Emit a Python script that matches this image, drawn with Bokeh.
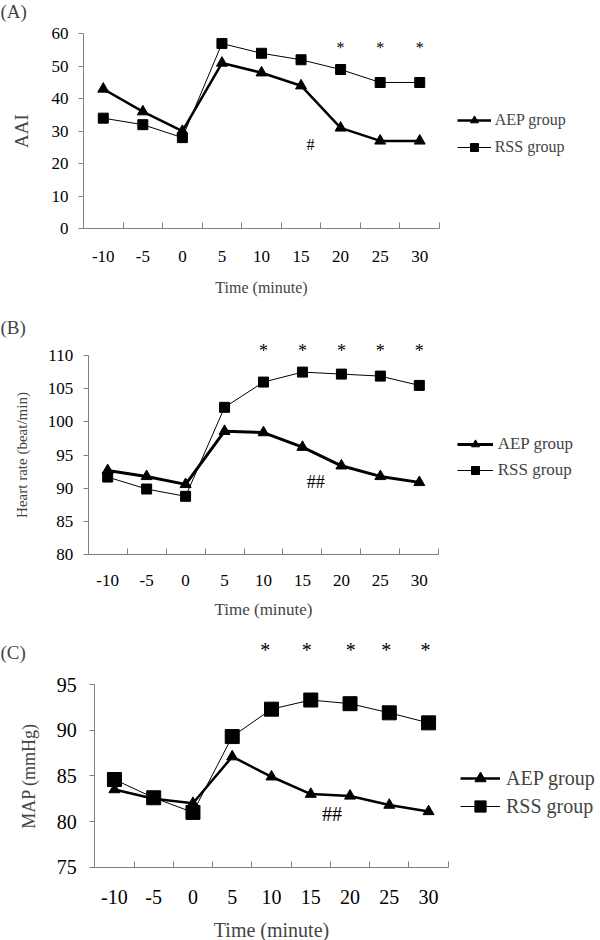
from bokeh.plotting import figure
from bokeh.layouts import column
from bokeh.models import Range1d, FixedTicker, Legend, LegendItem, Label, LabelSet, ColumnDataSource
from bokeh.embed import file_html
from bokeh.resources import INLINE

FONT = "Liberation Serif"
GRAY = "#808080"
W = 600

# ---- data ----
minutes = [-10, -5, 0, 5, 10, 15, 20, 25, 30]
x_tick_labels = ["-10", "-5", "0", "5", "10", "15", "20", "25", "30"]
x_bounds = [-12.5, -7.5, -2.5, 2.5, 7.5, 12.5, 17.5, 22.5, 27.5, 32.5]

aai_aep = [43, 36, 30, 51, 48, 44, 31, 27, 27]
aai_rss = [34, 32, 28, 57, 54, 52, 49, 45, 45]
aai_ticks = [0, 10, 20, 30, 40, 50, 60]
aai_star_x = [20, 25, 30]
aai_star_y = [55.9, 55.9, 55.9]
aai_hash_x = [16.2]
aai_hash_y = [25.9]

hr_aep = [92.7, 91.8, 90.6, 98.6, 98.4, 96.2, 93.4, 91.8, 90.9]
hr_rss = [91.7, 89.9, 88.8, 102.2, 106.0, 107.5, 107.2, 106.9, 105.5]
hr_ticks = [80, 85, 90, 95, 100, 105, 110]
hr_star_x = [10, 15, 20, 25, 30]
hr_star_y = [110.7, 110.7, 110.7, 110.7, 110.7]
hr_hash_x = [16.7]
hr_hash_y = [90.9]

map_aep = [83.5, 82.5, 82.0, 87.1, 84.9, 83.0, 82.8, 81.8, 81.1]
map_rss = [84.6, 82.6, 81.0, 89.3, 92.3, 93.3, 92.9, 91.9, 90.8]
map_ticks = [75, 80, 85, 90, 95]
map_star_x = [9.2, 14.5, 20.1, 24.6, 29.6]
map_star_y = [98.8, 98.8, 98.8, 98.8, 98.8]
map_hash_x = [17.7]
map_hash_y = [80.8]


def make_panel(tag, ylabel, yticks, aep, rss, star_x, star_y, hash_x, hash_y, hash_text,
               height, ax_left, ax_right, y_top_px, y_bot_px, tag_y,
               tick_fs, ylab_fs, xlab_fs, leg_fs, mark_fs, tag_fs,
               y_standoff, ylab_standoff, x_standoff, xlab_standoff,
               aep_lw, tri_size, sq_size,
               leg_loc, glyph_w, glyph_h, leg_spacing, leg_standoff):
    # ranges chosen so the axes sit at the wanted pixel positions (frame = whole figure)
    xmin, xmax = x_bounds[0], x_bounds[-1]
    s = (ax_right - ax_left) / (xmax - xmin)
    x_start = xmin - ax_left / s
    x_end = xmax + (W - ax_right) / s
    ymin, ymax = yticks[0], yticks[-1]
    u = (ymax - ymin) / (y_bot_px - y_top_px)
    y_end = ymax + y_top_px * u
    y_start = ymin - (height - y_bot_px) * u

    p = figure(width=W, height=height, output_backend="svg", toolbar_location=None,
               x_range=Range1d(x_start, x_end), y_range=Range1d(y_start, y_end),
               min_border_left=0, min_border_right=0, min_border_top=0, min_border_bottom=0)
    p.outline_line_color = None
    p.xgrid.visible = False
    p.ygrid.visible = False
    p.background_fill_color = "white"
    p.border_fill_color = "white"

    xa = p.xaxis[0]
    xa.fixed_location = ymin
    xa.bounds = (xmin, xmax)
    xa.ticker = FixedTicker(ticks=minutes, minor_ticks=x_bounds)
    xa.major_label_overrides = dict(zip(minutes, x_tick_labels))
    xa.major_tick_in = 0
    xa.major_tick_out = 0
    xa.minor_tick_in = 6
    xa.minor_tick_out = 0
    xa.axis_line_color = GRAY
    xa.minor_tick_line_color = GRAY
    xa.major_label_text_font = FONT
    xa.major_label_text_font_size = f"{tick_fs}px"
    xa.major_label_text_color = "black"
    xa.major_label_standoff = x_standoff
    xa.axis_label = "Time (minute)"
    xa.axis_label_text_font = FONT
    xa.axis_label_text_font_style = "normal"
    xa.axis_label_text_font_size = f"{xlab_fs}px"
    xa.axis_label_standoff = xlab_standoff

    ya = p.yaxis[0]
    ya.fixed_location = xmin
    ya.bounds = (ymin, ymax)
    ya.ticker = FixedTicker(ticks=yticks)
    ya.major_tick_in = 0
    ya.major_tick_out = 5
    ya.minor_tick_in = 0
    ya.minor_tick_out = 0
    ya.axis_line_color = GRAY
    ya.major_tick_line_color = GRAY
    ya.major_label_text_font = FONT
    ya.major_label_text_font_size = f"{tick_fs}px"
    ya.major_label_text_color = "black"
    ya.major_label_standoff = y_standoff
    ya.axis_label = ylabel
    ya.axis_label_text_font = FONT
    ya.axis_label_text_font_style = "normal"
    ya.axis_label_text_font_size = f"{ylab_fs}px"
    ya.axis_label_standoff = ylab_standoff

    r_rss_l = p.line(minutes, rss, line_color="black", line_width=1)
    r_rss_m = p.scatter(minutes, rss, marker="square", size=sq_size,
                        fill_color="black", line_color="black")
    r_aep_l = p.line(minutes, aep, line_color="black", line_width=aep_lw)
    r_aep_m = p.scatter(minutes, aep, marker="triangle", size=tri_size,
                        fill_color="black", line_color="black")

    legend = Legend(items=[LegendItem(label="AEP group", renderers=[r_aep_l, r_aep_m]),
                           LegendItem(label="RSS group", renderers=[r_rss_l, r_rss_m])],
                    location=leg_loc, glyph_width=glyph_w, glyph_height=glyph_h,
                    label_height=glyph_h, spacing=leg_spacing, label_standoff=leg_standoff,
                    padding=0, margin=0, border_line_color=None, background_fill_alpha=0,
                    label_text_font=FONT, label_text_font_size=f"{leg_fs}px")
    p.add_layout(legend, "center")

    stars = ColumnDataSource(dict(x=star_x, y=star_y, t=["*"] * len(star_x)))
    p.add_layout(LabelSet(x="x", y="y", text="t", source=stars, text_font=FONT,
                          text_font_size=f"{mark_fs}px", text_align="center",
                          text_baseline="middle", text_color="black"))
    hashes = ColumnDataSource(dict(x=hash_x, y=hash_y, t=[hash_text] * len(hash_x)))
    p.add_layout(LabelSet(x="x", y="y", text="t", source=hashes, text_font=FONT,
                          text_font_size=f"{mark_fs}px", text_align="center",
                          text_baseline="middle", text_color="black"))

    p.add_layout(Label(x=0, y=height - tag_y, x_units="screen", y_units="screen",
                       text=tag, text_font=FONT, text_font_size=f"{tag_fs}px",
                       text_baseline="middle", text_align="left"))
    return p


pA = make_panel("(A)", "AAI", aai_ticks, aai_aep, aai_rss, aai_star_x, aai_star_y,
                aai_hash_x, aai_hash_y, "#",
                height=310, ax_left=83, ax_right=439, y_top_px=33.3, y_bot_px=228, tag_y=11,
                tick_fs=17, ylab_fs=19, xlab_fs=16, leg_fs=16, mark_fs=16, tag_fs=19,
                y_standoff=10, ylab_standoff=17, x_standoff=22, xlab_standoff=14,
                aep_lw=2.5, tri_size=11, sq_size=10,
                leg_loc=(456.7, 153.3), glyph_w=34, glyph_h=20, leg_spacing=7, leg_standoff=4)

pB = make_panel("(B)", "Heart rate (beat/min)", hr_ticks, hr_aep, hr_rss, hr_star_x, hr_star_y,
                hr_hash_x, hr_hash_y, "##",
                height=310, ax_left=87.7, ax_right=438.3, y_top_px=45, y_bot_px=244.3, tag_y=17,
                tick_fs=17, ylab_fs=15, xlab_fs=17, leg_fs=17, mark_fs=18, tag_fs=19,
                y_standoff=10, ylab_standoff=15, x_standoff=20, xlab_standoff=11,
                aep_lw=3, tri_size=11, sq_size=10,
                leg_loc=(456.7, 140), glyph_w=36, glyph_h=20, leg_spacing=6, leg_standoff=5)

pC = make_panel("(C)", "MAP (mmHg)", map_ticks, map_aep, map_rss, map_star_x, map_star_y,
                map_hash_x, map_hash_y, "##",
                height=320, ax_left=94.3, ax_right=447.7, y_top_px=64, y_bot_px=246.7, tag_y=31.7,
                tick_fs=20, ylab_fs=18, xlab_fs=20, leg_fs=20, mark_fs=20, tag_fs=19,
                y_standoff=13, ylab_standoff=15, x_standoff=23, xlab_standoff=11,
                aep_lw=2.5, tri_size=11, sq_size=14,
                leg_loc=(460, 120), glyph_w=40, glyph_h=28, leg_spacing=0, leg_standoff=6)

layout = column(pA, pB, pC, spacing=0)
open("out.html", "w").write(file_html(layout, INLINE))
